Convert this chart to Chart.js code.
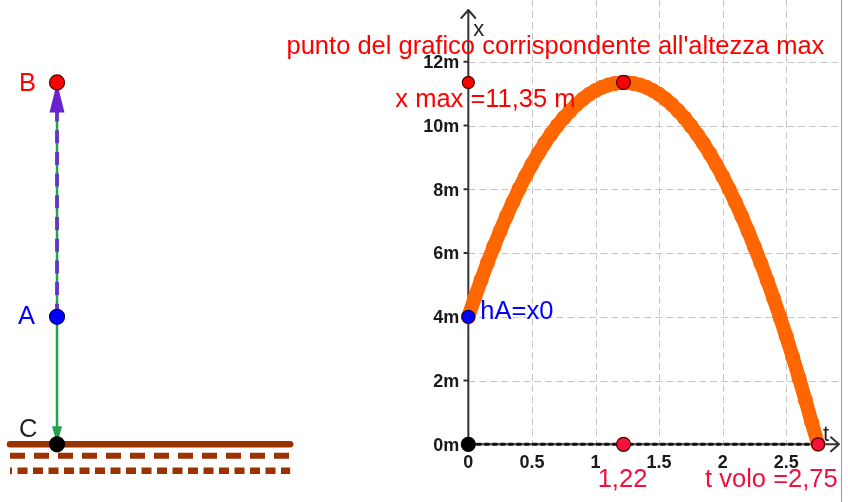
<!DOCTYPE html>
<html>
<head>
<meta charset="utf-8">
<title>Lancio verticale: altezza in funzione del tempo</title>
<script src="https://cdn.jsdelivr.net/npm/chart.js@4.4.1/dist/chart.umd.min.js"></script>
<style>
  html, body { margin: 0; padding: 0; background: #ffffff; }
  #wrap { position: relative; width: 848px; height: 502px; }
  canvas { display: block; }
</style>
</head>
<body>
<div id="wrap"><canvas id="c" width="848" height="502"></canvas></div>
<script>
// ---- data -------------------------------------------------------------
// axis ticks
const T_TICKS  = [0, 0.5, 1, 1.5, 2, 2.5];
const T_LABELS = ['0', '0.5', '1', '1.5', '2', '2.5'];
const X_TICKS  = [0, 2, 4, 6, 8, 10, 12];
const X_LABELS = ['0m', '2m', '4m', '6m', '8m', '10m', '12m'];

// traced trajectory: time (s) and height (m)
const TIME = [0.00, 0.05, 0.10, 0.15, 0.20, 0.25, 0.30, 0.35, 0.40, 0.45,
              0.50, 0.55, 0.60, 0.65, 0.70, 0.75, 0.80, 0.85, 0.90, 0.95,
              1.00, 1.05, 1.10, 1.15, 1.20, 1.25, 1.30, 1.35, 1.40, 1.45,
              1.50, 1.55, 1.60, 1.65, 1.70, 1.75, 1.80, 1.85, 1.90, 1.95,
              2.00, 2.05, 2.10, 2.15, 2.20, 2.25, 2.30, 2.35, 2.40, 2.45,
              2.50, 2.55, 2.60, 2.65, 2.70, 2.75];
const HEIGHT = [4.00, 4.59, 5.15, 5.69, 6.20, 6.69, 7.16, 7.60, 8.02, 8.41,
                8.78, 9.12, 9.44, 9.73, 10.00, 10.24, 10.46, 10.66, 10.83, 10.98,
                11.10, 11.20, 11.27, 11.32, 11.34, 11.34, 11.32, 11.27, 11.20, 11.10,
                10.98, 10.83, 10.66, 10.46, 10.24, 9.99, 9.72, 9.43, 9.11, 8.77,
                8.40, 8.01, 7.59, 7.15, 6.68, 6.19, 5.68, 5.14, 4.58, 3.99,
                3.38, 2.74, 2.08, 1.39, 0.68, 0.00];

// key values of the launch
const H_A      = 4;      // starting height hA = x0
const X_MAX    = 11.35;  // maximum height
const T_TOP    = 1.22;   // time of maximum height
const T_FLIGHT = 2.75;   // flight time
const H_GROUND = 0;

// horizontal layout of the side sketch (units of the sketch scale, 0..100)
const SKETCH_COL    = 6.78;
const SKETCH_GROUND = [1.19, 34.5];
const GROUND_ROWS   = [-0.36, -0.83];

// ---- helpers ----------------------------------------------------------
const FONT = '"Liberation Sans", Arial, Helvetica, sans-serif';
const fmt = v => v.toFixed(2).replace('.', ',');
const RED = '#ff0000';
const CRIMSON = '#f0103c';
const BLUE = '#0000ff';
const ORANGE = '#ff6600';
const BROWN = '#993300';

const trajectory = TIME.map((t, i) => ({ x: t, y: HEIGHT[i] }));

const noPadding = s => {
  s.paddingLeft = s.paddingRight = s.paddingTop = s.paddingBottom = 0;
};

const scenePlugin = {
  id: 'scene',
  beforeDatasetsDraw(chart) {
    const { ctx, chartArea: a, scales: { x, y } } = chart;
    const x0 = x.getPixelForValue(0), y0 = y.getPixelForValue(0);
    ctx.save();
    // dashed grid in the first quadrant
    ctx.strokeStyle = '#c6c6c6';
    ctx.lineWidth = 1;
    ctx.setLineDash([7, 4]);
    ctx.beginPath();
    T_TICKS.forEach(v => {
      if (v <= 0) return;
      const px = Math.round(x.getPixelForValue(v)) + 0.5;
      ctx.moveTo(px, a.top); ctx.lineTo(px, y0);
    });
    X_TICKS.forEach(v => {
      if (v <= 0) return;
      const py = Math.round(y.getPixelForValue(v)) + 0.5;
      ctx.moveTo(x0, py); ctx.lineTo(a.right, py);
    });
    ctx.stroke();
    ctx.setLineDash([]);

    // axes with open arrowheads
    const yTop = a.top + 10, xEnd = a.right - 2;
    ctx.strokeStyle = '#333333';
    ctx.lineWidth = 2;
    ctx.lineCap = 'round';
    ctx.lineJoin = 'round';
    ctx.beginPath();
    ctx.moveTo(x0, y0); ctx.lineTo(x0, yTop);
    ctx.moveTo(x0 - 7, yTop + 8); ctx.lineTo(x0, yTop); ctx.lineTo(x0 + 7, yTop + 8);
    ctx.moveTo(x0, y0); ctx.lineTo(xEnd, y0);
    ctx.moveTo(xEnd - 8, y0 - 7); ctx.lineTo(xEnd, y0); ctx.lineTo(xEnd - 8, y0 + 7);
    X_TICKS.forEach(v => {
      const py = y.getPixelForValue(v);
      ctx.moveTo(x0 - 4, py); ctx.lineTo(x0, py);
    });
    ctx.stroke();

    // tick labels
    ctx.fillStyle = '#1a1a1a';
    ctx.font = `bold 18px ${FONT}`;
    ctx.textAlign = 'right';
    ctx.textBaseline = 'middle';
    X_TICKS.forEach((v, i) => ctx.fillText(X_LABELS[i], x0 - 9, y.getPixelForValue(v) + 1.5));
    ctx.textAlign = 'center';
    ctx.textBaseline = 'alphabetic';
    T_TICKS.forEach((v, i) => ctx.fillText(T_LABELS[i], x.getPixelForValue(v), y0 + 24));

    // axis names
    ctx.fillStyle = '#222222';
    ctx.font = `22px ${FONT}`;
    ctx.textAlign = 'left';
    ctx.fillText('x', x0 + 5, yTop + 26);
    ctx.fillText('t', xEnd - 16, y0 - 3);

    // edge of the graph view
    ctx.strokeStyle = '#9a9a9a';
    ctx.lineWidth = 1;
    ctx.beginPath();
    ctx.moveTo(a.right + 0.5, 0); ctx.lineTo(a.right + 0.5, chart.height);
    ctx.stroke();
    ctx.restore();
  },
  afterDatasetDraw(chart, args) {
    const ds = chart.data.datasets[args.index];
    if (!ds.arrowHead) return;
    const pts = args.meta.data;
    const p0 = pts[0], p1 = pts[pts.length - 1];
    const dx = p1.x - p0.x, dy = p1.y - p0.y, len = Math.hypot(dx, dy);
    const ux = dx / len, uy = dy / len;
    const { length, half, color } = ds.arrowHead;
    const bx = p1.x - ux * length, by = p1.y - uy * length;
    const ctx = chart.ctx;
    ctx.save();
    ctx.fillStyle = color;
    ctx.beginPath();
    ctx.moveTo(p1.x, p1.y);
    ctx.lineTo(bx - uy * half, by + ux * half);
    ctx.lineTo(bx + uy * half, by - ux * half);
    ctx.closePath();
    ctx.fill();
    ctx.restore();
  },
  afterDraw(chart) {
    const { ctx, scales: { x, y, xd } } = chart;
    const x0 = x.getPixelForValue(0), y0 = y.getPixelForValue(0);
    const peakX = x.getPixelForValue(T_TOP), peakY = y.getPixelForValue(X_MAX);
    ctx.save();
    ctx.font = `25.5px ${FONT}`;
    ctx.textBaseline = 'alphabetic';
    ctx.textAlign = 'left';

    ctx.fillStyle = RED;
    ctx.fillText("punto del grafico corrispondente all'altezza max", peakX - 337, peakY - 28.5);
    ctx.fillText('x max =' + fmt(X_MAX) + ' m', x0 - 73, peakY + 25);

    ctx.fillStyle = BLUE;
    ctx.fillText('hA=x0', x0 + 12, y.getPixelForValue(H_A) + 2.5);

    ctx.fillStyle = CRIMSON;
    ctx.textAlign = 'center';
    ctx.fillText(fmt(T_TOP), peakX - 1, y0 + 43);
    ctx.textAlign = 'left';
    ctx.fillText('t volo =' + fmt(T_FLIGHT), x.getPixelForValue(T_FLIGHT) - 113, y0 + 43);

    // side sketch labels
    const cx = xd.getPixelForValue(SKETCH_COL);
    ctx.fillStyle = RED;
    ctx.fillText('B', cx - 38, y.getPixelForValue(X_MAX) + 9);
    ctx.fillStyle = BLUE;
    ctx.fillText('A', cx - 39, y.getPixelForValue(H_A) + 7);
    ctx.fillStyle = '#222222';
    ctx.fillText('C', cx - 38, y.getPixelForValue(H_GROUND) - 7);
    ctx.restore();
  }
};

const noPoint = { pointRadius: 0, pointHoverRadius: 0 };

new Chart(document.getElementById('c'), {
  type: 'scatter',
  data: {
    datasets: [
      // key points of the graph
      {
        label: 'punti',
        order: 0,
        data: [
          { x: T_TOP, y: X_MAX },
          { x: 0, y: X_MAX },
          { x: T_TOP, y: 0 },
          { x: T_FLIGHT, y: 0 },
          { x: 0, y: H_A },
          { x: 0, y: 0 }
        ],
        pointRadius: [7, 6, 7, 6.5, 6.5, 7],
        pointBackgroundColor: [RED, RED, '#f5123d', '#f5123d', BLUE, '#000000'],
        pointBorderColor: ['#4a0000', '#4a0000', '#4a0000', '#4a0000', '#00006a', '#000000'],
        pointBorderWidth: 1.2,
        showLine: false
      },
      // points of the side sketch
      {
        label: 'B A C',
        order: 0,
        xAxisID: 'xd',
        data: [
          { x: SKETCH_COL, y: X_MAX },
          { x: SKETCH_COL, y: H_A },
          { x: SKETCH_COL, y: H_GROUND }
        ],
        pointRadius: 7.5,
        pointBackgroundColor: [RED, BLUE, '#000000'],
        pointBorderColor: ['#4a0000', '#00006a', '#000000'],
        pointBorderWidth: 1.2,
        showLine: false
      },
      // vector A -> B
      {
        label: 'vAB',
        order: 1,
        xAxisID: 'xd',
        data: [{ x: SKETCH_COL, y: H_A }, { x: SKETCH_COL, y: X_MAX }],
        showLine: true,
        borderColor: 'rgba(100, 45, 200, 0.9)',
        borderWidth: 4,
        borderDash: [13, 8.7],
        ...noPoint,
        arrowHead: { length: 30, half: 7.5, color: '#6a22d0' }
      },
      // vector B -> C
      {
        label: 'vBC',
        order: 2,
        xAxisID: 'xd',
        data: [{ x: SKETCH_COL, y: X_MAX }, { x: SKETCH_COL, y: H_GROUND }],
        showLine: true,
        borderColor: '#22a24e',
        borderWidth: 2.5,
        ...noPoint,
        arrowHead: { length: 18, half: 5, color: '#22a24e' }
      },
      // ground
      {
        label: 'suolo',
        order: 4,
        xAxisID: 'xd',
        data: [{ x: SKETCH_GROUND[0], y: H_GROUND }, { x: SKETCH_GROUND[1], y: H_GROUND }],
        showLine: true,
        borderColor: BROWN,
        borderWidth: 6.5,
        borderCapStyle: 'round',
        ...noPoint
      },
      {
        label: 'suolo 1',
        order: 4,
        xAxisID: 'xd',
        data: [{ x: SKETCH_GROUND[0], y: GROUND_ROWS[0] }, { x: SKETCH_GROUND[1], y: GROUND_ROWS[0] }],
        showLine: true,
        borderColor: BROWN,
        borderWidth: 6,
        borderCapStyle: 'butt',
        borderDash: [15, 9],
        ...noPoint
      },
      {
        label: 'suolo 2',
        order: 4,
        xAxisID: 'xd',
        data: [{ x: SKETCH_GROUND[0], y: GROUND_ROWS[1] }, { x: SKETCH_GROUND[1], y: GROUND_ROWS[1] }],
        showLine: true,
        borderColor: BROWN,
        borderWidth: 6.5,
        borderCapStyle: 'butt',
        borderDash: [10, 5.5],
        borderDashOffset: 8,
        ...noPoint
      },
      // traced height x(t)
      {
        label: 'x(t)',
        order: 3,
        data: trajectory,
        showLine: true,
        borderColor: ORANGE,
        borderWidth: 14,
        borderJoinStyle: 'round',
        borderCapStyle: 'round',
        pointRadius: 7.5,
        pointBackgroundColor: ORANGE,
        pointBorderWidth: 0,
        tension: 0
      },
      // flight time segment on the t axis
      {
        label: 'volo',
        order: 5,
        data: [{ x: 0, y: 0 }, { x: T_FLIGHT, y: 0 }],
        showLine: true,
        borderColor: '#111111',
        borderWidth: 3,
        borderDash: [5, 3],
        ...noPoint
      }
    ]
  },
  options: {
    responsive: false,
    animation: false,
    events: [],
    layout: { autoPadding: false, padding: { left: 0, top: 0, right: 7, bottom: 0 } },
    plugins: { legend: { display: false }, tooltip: { enabled: false } },
    scales: {
      x: {
        type: 'linear',
        min: -3.682,
        max: 2.930,
        display: false,
        afterFit: noPadding
      },
      y: {
        type: 'linear',
        min: -1.81,
        max: 13.937,
        display: false,
        afterFit: noPadding
      },
      xd: {
        type: 'linear',
        min: 0,
        max: 100,
        display: false,
        afterFit: noPadding
      }
    }
  },
  plugins: [scenePlugin]
});
</script>
</body>
</html>
